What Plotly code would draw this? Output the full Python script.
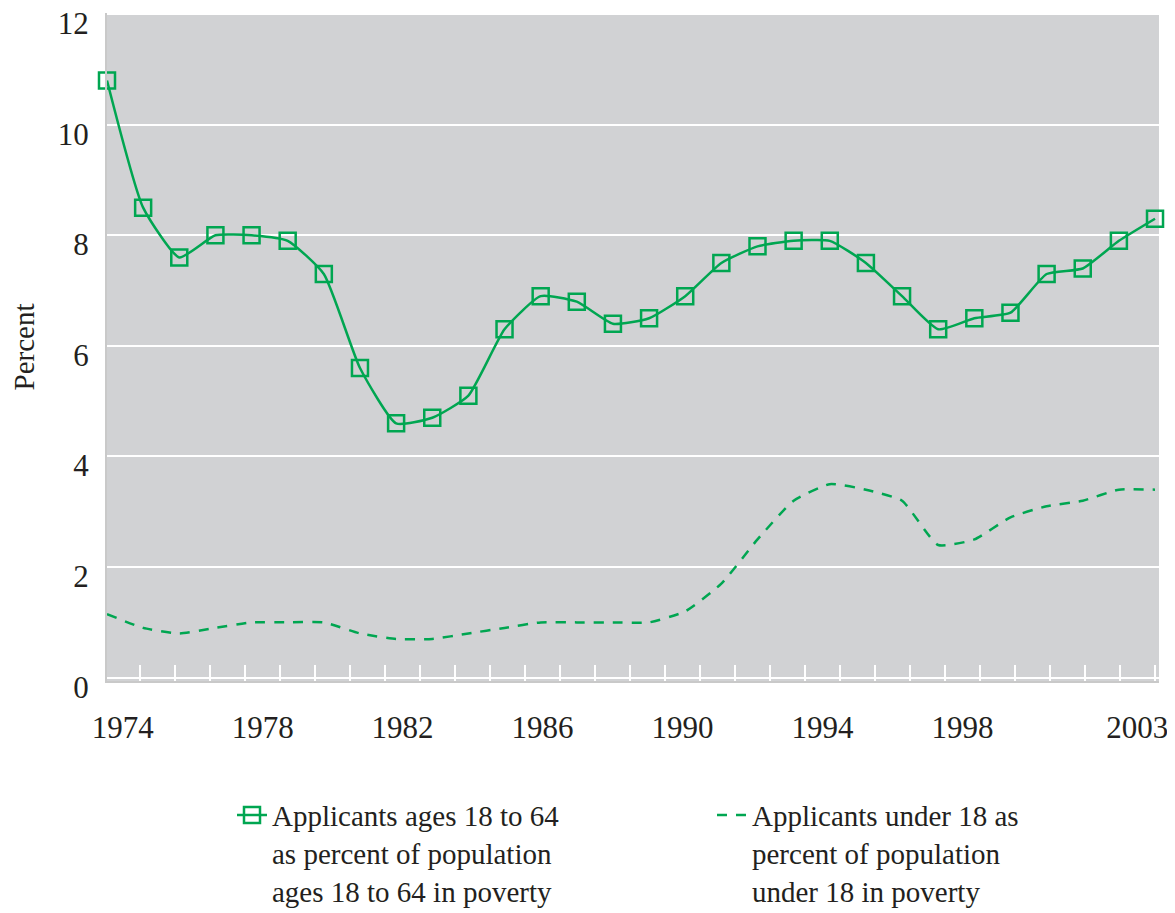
import plotly.graph_objects as go

years = list(range(1974, 2004))
adults = [10.8, 8.5, 7.6, 8.0, 8.0, 7.9, 7.3, 5.6, 4.6, 4.7, 5.1, 6.3, 6.9, 6.8, 6.4,
          6.5, 6.9, 7.5, 7.8, 7.9, 7.9, 7.5, 6.9, 6.3, 6.5, 6.6, 7.3, 7.4, 7.9, 8.3]
children = [1.15, 0.9, 0.8, 0.9, 1.0, 1.0, 1.0, 0.8, 0.7, 0.7, 0.8, 0.9, 1.0, 1.0, 1.0,
            1.0, 1.2, 1.7, 2.5, 3.2, 3.5, 3.4, 3.2, 2.4, 2.5, 2.9, 3.1, 3.2, 3.4, 3.4]
label_years = [1974, 1978, 1982, 1986, 1990, 1994, 1998, 2003]
y_ticks = [0, 2, 4, 6, 8, 10, 12]
name_adults = "Applicants ages 18 to 64<br>as percent of population<br>ages 18 to 64 in poverty"
name_children = "Applicants under 18 as<br>percent of population<br>under 18 in poverty"

GREEN = "#00a651"
TEXT = "#231f20"
FONT = "Liberation Serif"

fig = go.Figure()
fig.add_trace(go.Scatter(
    x=years, y=adults, name=name_adults, mode="lines+markers", legend="legend",
    cliponaxis=False,
    line=dict(color=GREEN, width=2.5, shape="spline", smoothing=0.5),
    marker=dict(symbol="square-open", size=16, color=GREEN, line=dict(width=2.5, color=GREEN)),
))
fig.add_trace(go.Scatter(
    x=years, y=children, name=name_children, mode="lines", legend="legend2",
    line=dict(color=GREEN, width=2.5, dash="10px,9px", shape="spline", smoothing=0.5),
))
# invisible trace carrying the label axis
fig.add_trace(go.Scatter(x=label_years, y=[None] * len(label_years), xaxis="x2",
                         showlegend=False, hoverinfo="skip", mode="lines"))

legend_common = dict(orientation="v", yanchor="top", xanchor="left", valign="top",
                     font=dict(family=FONT, size=29, color=TEXT), bgcolor="rgba(0,0,0,0)",
                     borderwidth=0)

fig.update_layout(
    width=1167, height=905,
    margin=dict(l=99, r=16, t=5, b=232, autoexpand=False),
    paper_bgcolor="white", plot_bgcolor="#d1d2d4",
    font=dict(family=FONT, color=TEXT, size=30),
    xaxis=dict(range=[1974, 2003.11], showgrid=False, zeroline=False,
               showticklabels=False, ticks="",
               showline=True, linecolor="#c9c9c9", linewidth=2),
    xaxis2=dict(range=[1973.55, 2003.62], overlaying="x", anchor="y", side="bottom",
                showgrid=False, zeroline=False, tickmode="array", tickvals=label_years,
                ticktext=[str(v) for v in label_years], ticks="",
                tickfont=dict(family=FONT, size=31, color=TEXT), ticklabelstandoff=25,
                ticklabeloverflow="allow",
                minor=dict(ticks="inside", tickmode="linear", tick0=1974.5, dtick=1,
                           ticklen=16, tickwidth=2, tickcolor="white", showgrid=False)),
    yaxis=dict(range=[-0.06, 12.02], tickmode="array", tickvals=y_ticks,
               showgrid=True, gridcolor="white", gridwidth=2,
               zeroline=True, zerolinecolor="white", zerolinewidth=2,
               showline=True, linecolor="#c9c9c9", linewidth=2,
               tickfont=dict(family=FONT, size=31, color=TEXT),
               ticklabelstandoff=10, ticklabelshift=9, ticklabeloverflow="allow",
               title=dict(text="Percent", font=dict(family=FONT, size=29, color=TEXT), standoff=24)),
    legend=dict(x=(232 - 107) / 1052, y=-0.1625, **legend_common),
    legend2=dict(x=(712 - 107) / 1052, y=-0.1625, **legend_common),
    showlegend=True,
)

fig.write_html("out.html")
